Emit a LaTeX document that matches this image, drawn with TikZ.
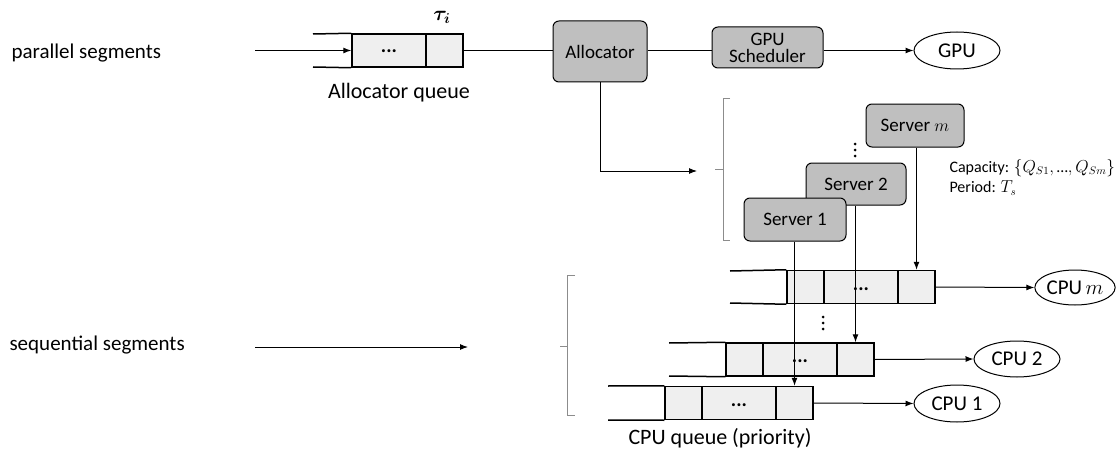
\documentclass[tikz,border=0pt]{standalone}
\usepackage{fontspec}
\setmainfont{Carlito}
\usepackage{amsmath,bm}
\usetikzlibrary{arrows.meta,shapes.geometric}
\definecolor{boxgray}{HTML}{BFBFBF}
\definecolor{cellgray}{HTML}{EFEFEF}
\definecolor{bracegray}{HTML}{8C8C8C}

\begin{document}
\begin{tikzpicture}[x=1pt,y=-1pt,
  side/.style={font=\fontsize{21}{24}\selectfont},
  lbl/.style={font=\fontsize{22}{24}\selectfont},
  small/.style={font=\fontsize{16}{18}\selectfont},
  proc/.style={draw, fill=boxgray, rounded corners=6pt, line width=1pt, inner sep=0, align=center, font=\fontsize{19}{19}\selectfont},
  cell/.style={draw, fill=cellgray, line width=1.5pt, inner sep=0, minimum height=33pt, font=\bfseries\fontsize{20}{20}\selectfont},
  rail/.style={line width=1.5pt},
  unit/.style={draw, ellipse, line width=1pt, inner sep=0, font=\fontsize{21}{22}\selectfont},
  flow/.style={line width=1pt, -{Latex[length=8pt,width=6pt]}},
  link/.style={line width=1pt},
  grp/.style={draw=bracegray, line width=0.8pt},
  dot/.style={fill=black, circle, inner sep=0, minimum size=3pt}
]
\useasboundingbox (0,0) rectangle (1117,452);

% side labels
\node[side, anchor=west] (par) at (8,53) {parallel segments};
\node[side, anchor=west] (seq) at (6,345) {sequential segments};

% allocator queue
\node[cell, minimum width=74pt] (a1) at (389,50.5) {\raisebox{-5pt}{...}};
\node[cell, minimum width=37pt] (a2) at (444.5,50.5) {};
\draw[rail] (313,34) -- (a1.north west);
\draw[rail] (313,67) -- (a1.south west);
\node[font=\fontsize{21}{21}\selectfont] (tau) at (442,17) {$\bm{\tau_i}$};
\node[lbl] (aqlbl) at (399,93) {Allocator queue};
\coordinate (ain) at (255,50.5);
\draw[flow] (ain) -- (a1.west);

% allocator, GPU path
\node[proc, minimum width=94pt, minimum height=61pt] (alloc) at (600,51.5) {Allocator};
\node[proc, minimum width=111pt, minimum height=41pt] (sched) at (767.5,47.5) {GPU\\[-2pt]Scheduler};
\node[unit, minimum width=86pt, minimum height=37pt] (gpu) at (957,50.5) {GPU};
\draw[link] (a2.east) -- (a2.east -| alloc.west);
\draw[link] (alloc.east |- gpu) -- (sched.west |- gpu);
\draw[flow] (sched.east |- gpu) -- (gpu.west);

% allocator to servers
\coordinate (srvin) at (697,171);
\draw[flow] (alloc.south) |- (srvin);
\draw[grp] (730,98) -- (723,98) -- (723,240) -- (730,240) (723,169) -- (715,169);

% servers
\node[proc, minimum width=98pt, minimum height=43pt] (srvm) at (915,125.5) {Server $m$};
\node[proc, minimum width=100pt, minimum height=42pt] (srv2) at (856,184) {Server 2};
\node[proc, minimum width=102pt, minimum height=43pt] (srv1) at (795,219.5) {Server 1};
\node[dot] (vd1) at (855,144) {};
\node[dot] (vd2) at (855,150) {};
\node[dot] (vd3) at (855,156) {};
\node[small, anchor=west] (cap) at (946,168) {Capacity: $\{Q_{S1},\text{…},Q_{Sm}\}$};
\node[small, anchor=west] (per) at (946,188) {Period: $T_s$};

% CPU queue m
\node[cell, minimum width=37pt] (qm1) at (805.5,287) {};
\node[cell, minimum width=74pt] (qm2) at (861,287) {\raisebox{-7pt}{...}};
\node[cell, minimum width=37pt] (qm3) at (916.5,287) {};
\draw[rail] (730,271) -- (qm1.north west);
\draw[rail] (730,303) -- (qm1.south west);
\node[unit, minimum width=80pt, minimum height=35pt] (cpum) at (1075,287.5) {CPU\,$m$};
\draw[flow] (qm3.east) -- (cpum.west);
\node[dot] (qd1) at (823,317) {};
\node[dot] (qd2) at (823,323) {};
\node[dot] (qd3) at (823,329) {};

% CPU queue 2
\node[cell, minimum width=37pt] (q21) at (744.5,359.5) {};
\node[cell, minimum width=74pt] (q22) at (800,359.5) {\raisebox{-7pt}{...}};
\node[cell, minimum width=37pt] (q23) at (855.5,359.5) {};
\draw[rail] (669,343) -- (q21.north west);
\draw[rail] (669,376) -- (q21.south west);
\node[unit, minimum width=86pt, minimum height=36pt] (cpu2) at (1017,359) {CPU 2};
\draw[flow] (q23.east) -- (cpu2.west);

% CPU queue 1
\node[cell, minimum width=37pt] (q11) at (683.5,403) {};
\node[cell, minimum width=74pt] (q12) at (739,403) {\raisebox{-7pt}{...}};
\node[cell, minimum width=37pt] (q13) at (794.5,403) {};
\draw[rail] (608,386) -- (q11.north west);
\draw[rail] (608,420) -- (q11.south west);
\node[unit, minimum width=86pt, minimum height=37pt] (cpu1) at (957,403.5) {CPU 1};
\draw[flow] (q13.east) -- (cpu1.west);
\node[lbl] (cqlbl) at (720,438) {CPU queue (priority)};

% servers feed the CPU queues
\draw[flow] (srvm.south -| qm3) -- (qm3.north);
\draw[flow] (srv2.south -| q23) -- (q23.north);
\draw[flow] (srv1.south -| q13) -- (q13.north);

% sequential segments
\coordinate (sqa) at (255,347);
\coordinate (sqb) at (468,347);
\draw[flow] (sqa) -- (sqb);
\draw[grp] (575,275) -- (567,275) -- (567,415) -- (575,415) (567,346) -- (560,346);
\end{tikzpicture}
\end{document}
